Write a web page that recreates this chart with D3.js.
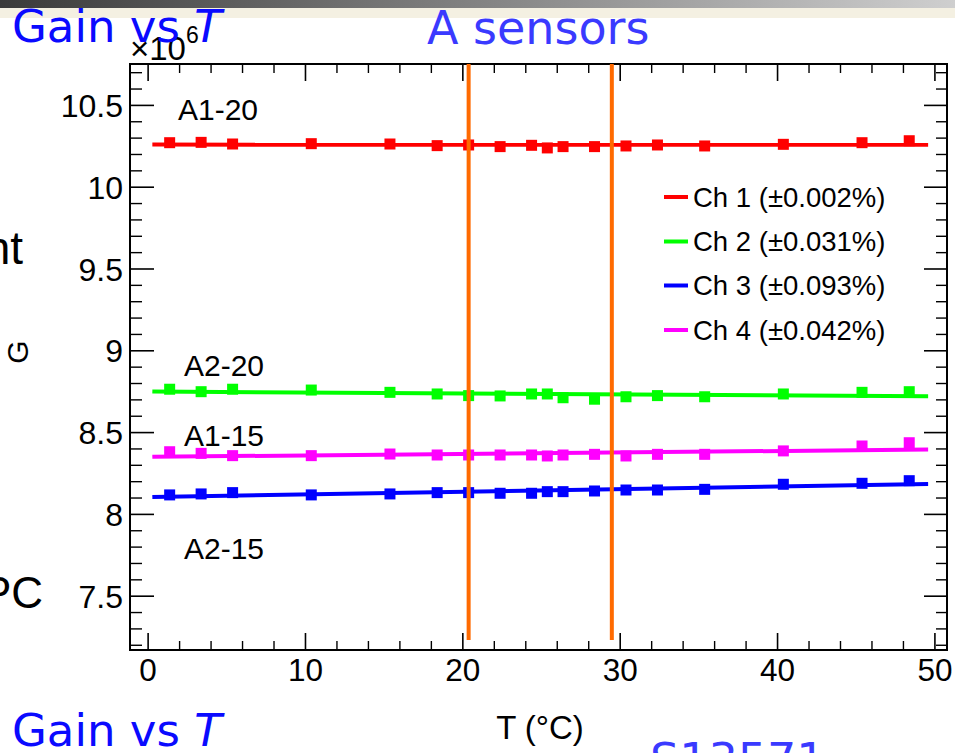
<!DOCTYPE html>
<html>
<head>
<meta charset="utf-8">
<script src="https://cdn.jsdelivr.net/npm/d3@7"></script>
<style>
  html, body { margin: 0; padding: 0; background: #fff; }
  svg { display: block; }
  .root-text { font-family: "Liberation Sans", Arial, Helvetica, sans-serif; fill: #000; }
</style>
</head>
<body>
<svg id="chart" width="955" height="753"></svg>
<script>
// Temperature points (°C) shared by all four channels
const temps = [1.4, 3.4, 5.4, 10.4, 15.4, 18.4, 20.4, 22.4, 24.4, 25.4, 26.4, 28.4, 30.4, 32.4, 35.4, 40.4, 45.4, 48.4];

// Gain per channel, in units of 10^6
const ch1 = [10.269, 10.271, 10.261, 10.263, 10.261, 10.251, 10.255, 10.245, 10.253, 10.237, 10.245, 10.245, 10.249, 10.255, 10.249, 10.259, 10.269, 10.281];
const ch2 = [8.762, 8.747, 8.762, 8.757, 8.743, 8.733, 8.723, 8.721, 8.733, 8.733, 8.710, 8.701, 8.716, 8.723, 8.716, 8.733, 8.743, 8.747];
const ch3 = [8.116, 8.122, 8.130, 8.116, 8.122, 8.130, 8.130, 8.126, 8.126, 8.136, 8.136, 8.140, 8.146, 8.146, 8.150, 8.181, 8.187, 8.203];
const ch4 = [8.380, 8.370, 8.356, 8.356, 8.366, 8.360, 8.360, 8.360, 8.360, 8.354, 8.360, 8.364, 8.354, 8.364, 8.364, 8.385, 8.415, 8.435];

const channelNames = ["Ch 1 (\u00B10.002%)", "Ch 2 (\u00B10.031%)", "Ch 3 (\u00B10.093%)", "Ch 4 (\u00B10.042%)"];
const channelColors = ["#ff0000", "#00ff00", "#0000ff", "#ff00ff"];
const sensorLabels = ["A1-20", "A2-20", "A1-15", "A2-15"];

// Axis ticks
const xMajorTicks = [0, 10, 20, 30, 40, 50];
const xTickLabels = ["0", "10", "20", "30", "40", "50"];
const yMajorTicks = [7.5, 8, 8.5, 9, 9.5, 10, 10.5];
const yTickLabels = ["7.5", "8", "8.5", "9", "9.5", "10", "10.5"];

// Reference temperatures marked with vertical lines
const refTemps = [20.4, 29.5];

// Range over which the linear fits are drawn
const fitRange = [0.3, 49.6];

const svg = d3.select("#chart");

// ---- slide background pieces ----
const defs = svg.append("defs");
const grad = defs.append("linearGradient").attr("id", "topbar");
grad.append("stop").attr("offset", "0%").attr("stop-color", "#3a3a3a");
grad.append("stop").attr("offset", "55%").attr("stop-color", "#8a8a8a");
grad.append("stop").attr("offset", "100%").attr("stop-color", "#cfcfcf");
svg.append("rect").attr("x", 0).attr("y", 0).attr("width", 955).attr("height", 8).attr("fill", "url(#topbar)");
svg.append("rect").attr("x", 0).attr("y", 8).attr("width", 955).attr("height", 10).attr("fill", "#f4f0e2");

// ---- frame geometry ----
const L = 130, R = 947, T = 64, B = 650;
const x = d3.scaleLinear().domain([-1.12, 50.8]).range([L, R]);
const y = d3.scaleLinear().domain([7.168, 10.75]).range([B, T]);

const rootFont = "Liberation Sans, Arial, Helvetica, sans-serif";

function styleTicks(g, w) {
  g.select(".domain").remove();
  g.selectAll(".tick line").attr("stroke", "#000").attr("stroke-width", w);
}

// minor tick values: every 2 °C and every 0.1 x 10^6
const xMinor = d3.range(2, 51, 2).filter(v => v % 10 !== 0);
const yMinor = d3.range(72, 108, 1).map(v => v / 10).filter(v => Math.abs(v * 2 - Math.round(v * 2)) > 1e-6);

// bottom axis
const gB = svg.append("g").attr("transform", `translate(0,${B})`)
  .call(d3.axisBottom(x).tickValues(xMajorTicks).tickFormat((d, i) => xTickLabels[i]).tickSize(-17).tickPadding(9));
styleTicks(gB, 1.6);
gB.selectAll("text").attr("font-family", rootFont).attr("font-size", 31.5).attr("fill", "#000");
const gBm = svg.append("g").attr("transform", `translate(0,${B})`)
  .call(d3.axisBottom(x).tickValues(xMinor).tickFormat("").tickSize(-9));
styleTicks(gBm, 1.4);

// top axis
const gT = svg.append("g").attr("transform", `translate(0,${T})`)
  .call(d3.axisTop(x).tickValues(xMajorTicks).tickFormat("").tickSize(-17));
styleTicks(gT, 1.6);
const gTm = svg.append("g").attr("transform", `translate(0,${T})`)
  .call(d3.axisTop(x).tickValues(xMinor).tickFormat("").tickSize(-9));
styleTicks(gTm, 1.4);

// left axis
const gL = svg.append("g").attr("transform", `translate(${L},0)`)
  .call(d3.axisLeft(y).tickValues(yMajorTicks).tickFormat((d, i) => yTickLabels[i]).tickSize(-24).tickPadding(7));
styleTicks(gL, 1.6);
gL.selectAll("text").attr("font-family", rootFont).attr("font-size", 32).attr("fill", "#000").attr("dy", "0.36em");
const gLm = svg.append("g").attr("transform", `translate(${L},0)`)
  .call(d3.axisLeft(y).tickValues(yMinor).tickFormat("").tickSize(-12));
styleTicks(gLm, 1.4);

// right axis
const gR = svg.append("g").attr("transform", `translate(${R},0)`)
  .call(d3.axisRight(y).tickValues(yMajorTicks).tickFormat("").tickSize(-23));
styleTicks(gR, 1.6);
const gRm = svg.append("g").attr("transform", `translate(${R},0)`)
  .call(d3.axisRight(y).tickValues(yMinor).tickFormat("").tickSize(-11));
styleTicks(gRm, 1.4);

// frame
svg.append("rect").attr("x", L).attr("y", T).attr("width", R - L).attr("height", B - T)
  .attr("fill", "none").attr("stroke", "#000").attr("stroke-width", 2);

// exponent label
const expo = svg.append("text").attr("class", "root-text").attr("x", L).attr("y", 60).attr("font-size", 33);
expo.append("tspan").text("\u00D710");
expo.append("tspan").attr("font-size", 23).attr("dy", -17).text("6");

// x-axis title
svg.append("text").attr("class", "root-text").attr("x", 540).attr("y", 739)
  .attr("text-anchor", "middle").attr("font-size", 33).text("T (\u00B0C)");

// ---- data ----
const series = [ch1, ch2, ch3, ch4];

function linFit(xs, ys) {
  const n = xs.length;
  const mx = d3.mean(xs), my = d3.mean(ys);
  let sxy = 0, sxx = 0;
  for (let i = 0; i < n; i++) { sxy += (xs[i] - mx) * (ys[i] - my); sxx += (xs[i] - mx) ** 2; }
  const b = sxy / sxx;
  return t => my + b * (t - mx);
}

const plot = svg.append("g");
series.forEach((vals, k) => {
  const f = linFit(temps, vals);
  plot.append("line")
    .attr("x1", x(fitRange[0])).attr("y1", y(f(fitRange[0])))
    .attr("x2", x(fitRange[1])).attr("y2", y(f(fitRange[1])))
    .attr("stroke", channelColors[k]).attr("stroke-width", 4);
  const ms = 11;
  plot.selectAll(null).data(vals).enter().append("rect")
    .attr("x", (d, i) => x(temps[i]) - ms / 2)
    .attr("y", d => y(d) - ms / 2)
    .attr("width", ms).attr("height", ms)
    .attr("fill", channelColors[k]);
});

// reference temperature lines
svg.selectAll(null).data(refTemps).enter().append("line")
  .attr("x1", d => x(d)).attr("x2", d => x(d))
  .attr("y1", y(10.75)).attr("y2", y(7.229))
  .attr("stroke", "#ff6a00").attr("stroke-width", 4);

// sensor labels
const labelPos = [[178, 120], [184, 376], [184, 446], [184, 559]];
sensorLabels.forEach((s, i) => {
  svg.append("text").attr("class", "root-text").attr("x", labelPos[i][0]).attr("y", labelPos[i][1])
    .attr("font-size", 30).text(s);
});

// legend
const legY = [197, 241.5, 285.5, 330];
channelNames.forEach((nm, i) => {
  svg.append("line").attr("x1", 664).attr("x2", 688).attr("y1", legY[i]).attr("y2", legY[i])
    .attr("stroke", channelColors[i]).attr("stroke-width", 4);
  svg.append("text").attr("class", "root-text").attr("x", 693).attr("y", legY[i]).attr("dy", "0.36em")
    .attr("font-size", 27.5).text(nm);
});

// ---- slide texts around the chart ----
const hand = "DejaVu Sans, sans-serif";
function handText(xp, yp, size, color, parts) {
  const t = svg.append("text").attr("x", xp).attr("y", yp).attr("font-family", hand)
    .attr("font-size", size).attr("fill", color);
  parts.forEach(p => t.append("tspan").attr("font-style", p[1] ? "italic" : "normal").text(p[0]));
  return t;
}
handText(12, 42, 45, "#0a0aff", [["Gain vs ", false], ["T", true]]);
handText(427, 44, 46, "#3a3aff", [["A sensors", false]]);
handText(12, 746, 45, "#0a0aff", [["Gain vs ", false], ["T", true]]);
handText(650, 776, 46, "#3a3aff", [["S13571", false]]);

svg.append("text").attr("class", "root-text").attr("x", 23).attr("y", 264).attr("text-anchor", "end")
  .attr("font-size", 46).text("nt");
svg.append("text").attr("class", "root-text").attr("transform", "translate(28,352) rotate(-90)")
  .attr("text-anchor", "middle").attr("font-size", 30).text("G");
svg.append("text").attr("class", "root-text").attr("x", 43).attr("y", 608).attr("text-anchor", "end")
  .attr("font-size", 44).text("PC");
</script>
</body>
</html>
